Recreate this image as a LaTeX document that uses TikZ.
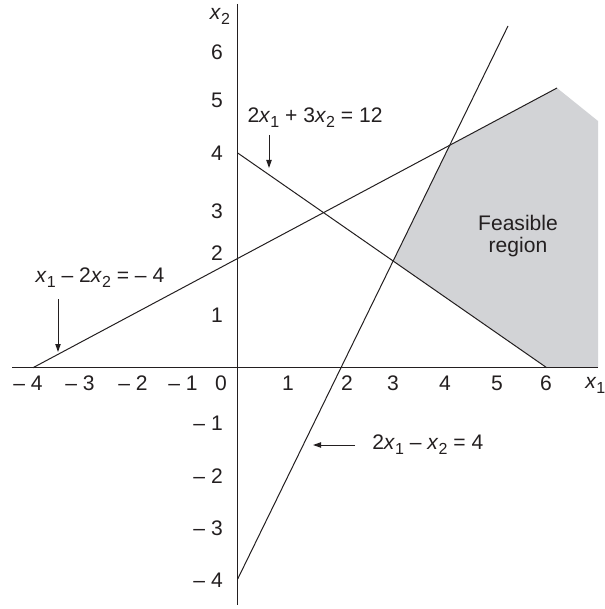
\documentclass[tikz,border=0pt]{standalone}
\usepackage{fontspec}
\setmainfont{Liberation Sans}
\usetikzlibrary{arrows.meta}
\definecolor{feas}{RGB}{210,211,214}
\definecolor{ink}{RGB}{35,31,32}
\newcommand\xs[1]{\textit{x}\raisebox{-0.45ex}{\fontsize{12}{14}\selectfont #1}}
\begin{document}
\begin{tikzpicture}[x=0.75pt,y=-0.75pt,
  every node/.style={font=\fontsize{15.8}{18}\selectfont, text=ink, inner sep=0pt},
  axisline/.style={draw=ink, line width=0.8pt},
  conline/.style={draw=ink, line width=0.75pt},
  pointer/.style={draw=ink, line width=0.75pt, -{Triangle[length=6pt,width=4pt]}},
  ylab/.style={anchor=east},
  xlab/.style={anchor=center}]
\useasboundingbox (0,0) rectangle (604,609);
% coordinates
\coordinate (O) at (237.7,367.7);
\coordinate (xa0) at (12,367.7);
\coordinate (xa1) at (598,367.7);
\coordinate (ya0) at (237.7,4);
\coordinate (ya1) at (237.7,605);
\coordinate (A0) at (33,367.7);
\coordinate (A1) at (557,88);
\coordinate (B0) at (237.7,579);
\coordinate (B1) at (508,26);
\coordinate (C0) at (237.7,153);
\coordinate (C1) at (546.7,367.7);
\coordinate (P1) at (393,261.2);
\coordinate (P2) at (449.5,145.6);
\coordinate (P4) at (598,121);
\coordinate (P5) at (598,367.7);
% feasible region
\fill[feas] (P1) -- (P2) -- (A1) -- (P4) -- (P5) -- (C1) -- cycle;
% axes
\draw[axisline] (xa0) -- (xa1);
\draw[axisline] (ya0) -- (ya1);
% constraint lines
\draw[conline] (A0) -- (A1);
\draw[conline] (B0) -- (B1);
\draw[conline] (C0) -- (C1);
% x tick labels
\node[xlab] (xm4) at (28,383) {– 4};
\node[xlab] (xm3) at (80,383) {– 3};
\node[xlab] (xm2) at (133,383) {– 2};
\node[xlab] (xm1) at (183,383) {– 1};
\node[xlab] (x0) at (221,383) {0};
\node[xlab] (x1) at (288,383) {1};
\node[xlab] (x2) at (347,383) {2};
\node[xlab] (x3) at (393,383) {3};
\node[xlab] (x4) at (445,383) {4};
\node[xlab] (x5) at (497,383) {5};
\node[xlab] (x6) at (546,383) {6};
\node[anchor=west] (xname) at (585,385) {\xs{1}};
% y tick labels
\node[xlab] (yname) at (220,16) {\xs{2}};
\node[ylab] (y6) at (223,52) {6};
\node[ylab] (y5) at (223,100) {5};
\node[ylab] (y4) at (223,153) {4};
\node[ylab] (y3) at (223,211) {3};
\node[ylab] (y2) at (223,253) {2};
\node[ylab] (y1) at (223,315) {1};
\node[ylab] (ym1) at (223,423) {– 1};
\node[ylab] (ym2) at (223,476) {– 2};
\node[ylab] (ym3) at (223,528) {– 3};
\node[ylab] (ym4) at (223,580) {– 4};
% equation labels
\node (eqC) at (315,118) {2\xs{1} + 3\xs{2} = 12};
\node (eqA) at (100,278) {\xs{1} – 2\xs{2} = – 4};
\node[anchor=west] (eqB) at (372,445) {2\xs{1} – \xs{2} = 4};
\node[align=center] (feasible) at (518,236) {Feasible\\[-1pt]region};
% pointers
\coordinate (tC0) at (269,135);
\coordinate (tC1) at (269,168);
\coordinate (tA0) at (58,299);
\coordinate (tA1) at (58,352);
\coordinate (tB0) at (355,445);
\coordinate (tB1) at (313,445);
\draw[pointer] (tC0) -- (tC1);
\draw[pointer] (tA0) -- (tA1);
\draw[pointer] (tB0) -- (tB1);
\end{tikzpicture}
\end{document}
